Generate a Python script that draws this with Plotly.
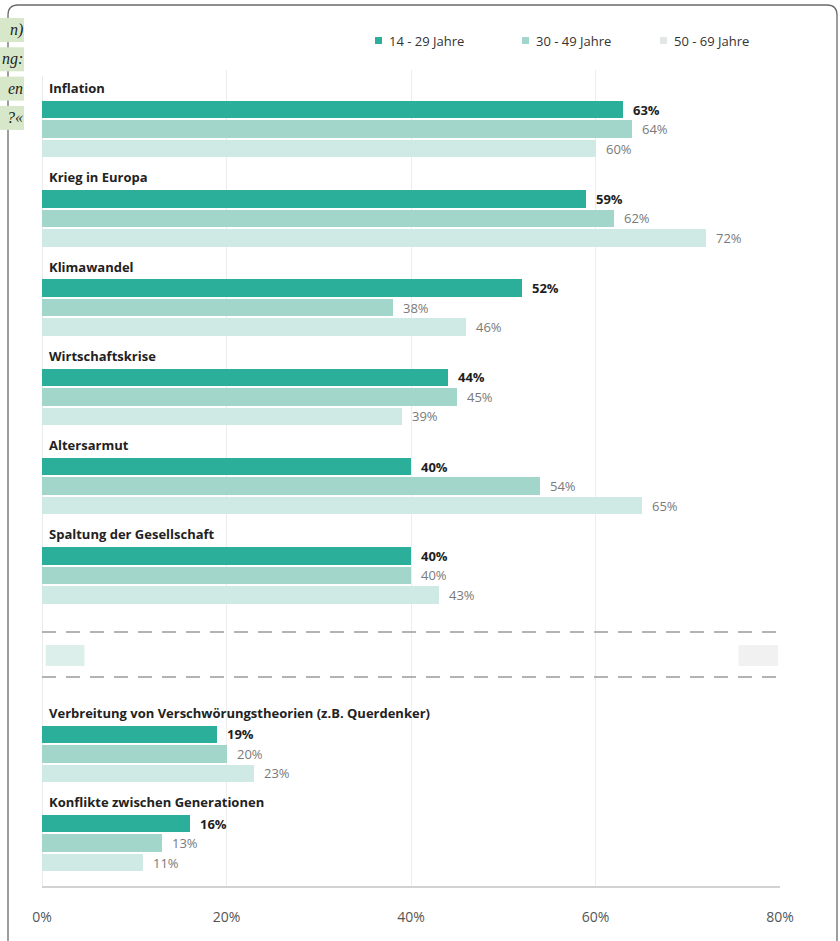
import plotly.graph_objects as go

# ---------------- data ----------------
categories = [
    "Inflation",
    "Krieg in Europa",
    "Klimawandel",
    "Wirtschaftskrise",
    "Altersarmut",
    "Spaltung der Gesellschaft",
    "Verbreitung von Verschwörungstheorien (z.B. Querdenker)",
    "Konflikte zwischen Generationen",
]
series_names = ["14 - 29 Jahre", "30 - 49 Jahre", "50 - 69 Jahre"]
values_14_29 = [63, 59, 52, 44, 40, 40, 19, 16]
values_30_49 = [64, 62, 38, 45, 54, 40, 20, 13]
values_50_69 = [60, 72, 46, 39, 65, 43, 23, 11]
tick_values = [0, 20, 40, 60, 80]
tick_labels = ["0%", "20%", "40%", "60%", "80%"]
side_fragments = ["n)", "ng:", "en", "?«"]

# ---------------- layout constants ----------------
W, H = 840, 941
ML, MR, MT, MB = 42, 60, 70, 54
PW, PH = W - ML - MR, H - MT - MB
GROUP_PX = 89.25
LABEL0_PX = 88
slots = [0, 1, 2, 3, 4, 5, 7, 8]          # slot 6 is the elided section
bar_offsets_px = [21.5, 41, 60.5]
bar_thick_px = 17.5
colors = ["#2baf9b", "#a3d6cb", "#cfeae4"]
legend_colors = ["#2baf9b", "#a3d6cb", "#e2e6e5"]
text_colors = ["#1e1e1e", "#7a7a7a", "#7a7a7a"]
FONT = "Open Sans"


def y_unit(px):
    return (px - LABEL0_PX) / GROUP_PX


def px_x(px):
    return (px - ML) / PW


def px_y(py):
    return 1 - (py - MT) / PH


y_top = y_unit(MT)
y_bot = y_unit(MT + PH)

series = [values_14_29, values_30_49, values_50_69]

fig = go.Figure()
annotations = []
shapes = []
for k, (name, vals) in enumerate(zip(series_names, series)):
    ys = [s + bar_offsets_px[k] / GROUP_PX for s in slots]
    fig.add_trace(go.Bar(
        orientation="h", x=vals, y=ys, name=name,
        width=bar_thick_px / GROUP_PX,
        marker=dict(color=colors[k], line=dict(width=0)),
        showlegend=False, hoverinfo="x+name",
    ))
    for v, yy in zip(vals, ys):
        annotations.append(dict(
            x=v, y=yy, xref="x", yref="y", text=f"{v}%",
            showarrow=False, xanchor="left", yanchor="middle", xshift=8, yshift=0,
            font=dict(family=FONT, size=13, color=text_colors[k],
                      weight=700 if k == 0 else 400),
        ))

# category labels
for cat, s in zip(categories, slots):
    annotations.append(dict(
        x=0, y=s, xref="x", yref="y", text=cat, showarrow=False,
        xanchor="left", yanchor="middle", xshift=5,
        font=dict(family=FONT, size=13, color="#222222", weight=700),
    ))

# legend (manual)
legend_x_px = [375, 522, 660]
for k, name in enumerate(series_names):
    x0 = legend_x_px[k]
    shapes.append(dict(type="rect", xref="paper", yref="paper",
                       x0=px_x(x0), x1=px_x(x0 + 7), y0=px_y(44), y1=px_y(37),
                       fillcolor=legend_colors[k], line=dict(width=0)))
    annotations.append(dict(
        x=px_x(x0 + 12), y=px_y(40.5), xref="paper", yref="paper", text=name,
        showarrow=False, xanchor="left", yanchor="middle",
        font=dict(family=FONT, size=13, color="#333333"),
    ))

# side fragments (cut-off text of an overlapping element)
for i, frag in enumerate(side_fragments):
    cy = 30 + i * 29.3
    shapes.append(dict(type="rect", xref="paper", yref="paper",
                       x0=px_x(0), x1=px_x(24), y0=px_y(cy + 12), y1=px_y(cy - 12),
                       fillcolor="#d6e8c9", line=dict(width=0), layer="above"))
    annotations.append(dict(
        x=px_x(24.5), y=px_y(cy), xref="paper", yref="paper", text=frag,
        showarrow=False, xanchor="right", yanchor="middle", align="right",
        font=dict(family="Liberation Serif", size=16, color="#1e1e1e", style="italic"),
    ))

# frame with rounded corners (bottom edge beyond the view)
r = 10
fx0, fx1, fy0, fyb = 8, 837, 5, 960
path = (f"M {px_x(fx0)} {px_y(fyb)} L {px_x(fx0)} {px_y(fy0 + r)} "
        f"Q {px_x(fx0)} {px_y(fy0)} {px_x(fx0 + r)} {px_y(fy0)} "
        f"L {px_x(fx1 - r)} {px_y(fy0)} "
        f"Q {px_x(fx1)} {px_y(fy0)} {px_x(fx1)} {px_y(fy0 + r)} "
        f"L {px_x(fx1)} {px_y(fyb)}")
shapes.insert(0, dict(type="path", xref="paper", yref="paper", path=path,
                      line=dict(color="#6a6a6a", width=1.3)))

# elided section: dashed separators + faint placeholders
for dy in [y_unit(632), y_unit(677)]:
    shapes.append(dict(type="line", xref="paper", yref="y", x0=0, x1=px_x(782),
                       y0=dy, y1=dy, line=dict(color="#9a9a9a", width=1.5, dash="14px,10px")))
shapes.append(dict(type="rect", xref="x", yref="y", x0=0.4, x1=4.6,
                   y0=y_unit(645), y1=y_unit(666), fillcolor="#dcefea", line=dict(width=0),
                   layer="below"))
shapes.append(dict(type="rect", xref="x", yref="y", x0=75.5, x1=79.8,
                   y0=y_unit(645), y1=y_unit(666), fillcolor="#f1f1f1", line=dict(width=0),
                   layer="below"))

# left axis line and bottom axis line
shapes.append(dict(type="line", xref="x", yref="paper", x0=0, x1=0, y0=0, y1=px_y(76),
                   line=dict(color="#dcdcdc", width=1.2), layer="below"))
shapes.append(dict(type="line", xref="paper", yref="paper", x0=0, x1=1, y0=0, y1=0,
                   line=dict(color="#d2d2d2", width=2)))

fig.update_layout(
    width=W, height=H,
    margin=dict(l=ML, r=MR, t=MT, b=MB),
    paper_bgcolor="white", plot_bgcolor="white",
    barmode="overlay", bargap=0,
    annotations=annotations, shapes=shapes,
    xaxis=dict(range=[0, 80], tickvals=tick_values, ticktext=tick_labels,
               showgrid=True, gridcolor="#ededed", gridwidth=1,
               zeroline=False, showline=False,
               ticks="outside", ticklen=17, tickcolor="rgba(0,0,0,0)",
               tickfont=dict(family=FONT, size=14, color="#555555"),
               fixedrange=True),
    yaxis=dict(range=[y_bot, y_top], showticklabels=False, showgrid=False,
               zeroline=False, showline=False, fixedrange=True),
    font=dict(family=FONT),
)

fig.write_html("out.html")
